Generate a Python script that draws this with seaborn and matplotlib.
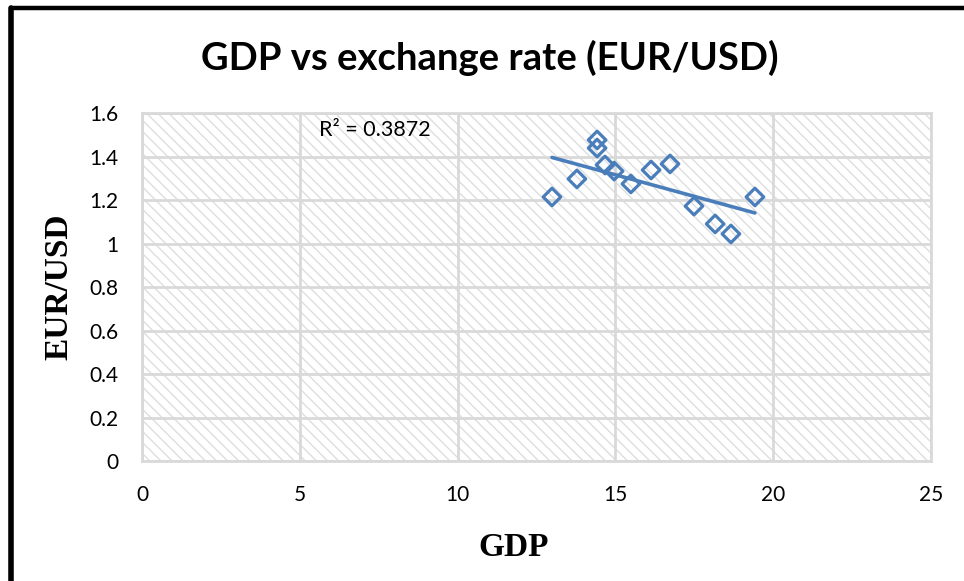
import numpy as np
import pandas as pd
import matplotlib
matplotlib.use("Agg")
import matplotlib.pyplot as plt
import seaborn as sns
from matplotlib.patches import Rectangle

# values
gdp = [12.99, 13.78, 14.42, 14.42, 14.67, 14.96, 15.49, 16.13, 16.73, 17.49, 18.16, 18.66, 19.42]
eur_usd = [1.214, 1.297, 1.476, 1.439, 1.361, 1.333, 1.274, 1.338, 1.366, 1.172, 1.090, 1.044, 1.214]
x_ticks = [0, 5, 10, 15, 20, 25]
y_ticks = [0, 0.2, 0.4, 0.6, 0.8, 1.0, 1.2, 1.4, 1.6]
y_tick_labels = ["0", "0.2", "0.4", "0.6", "0.8", "1", "1.2", "1.4", "1.6"]
r2_label = "R² = 0.3872"

df = pd.DataFrame({"GDP": gdp, "EUR/USD": eur_usd})

sns.set_theme(style="white")
plt.rcParams["font.family"] = ["Lato", "DejaVu Sans"]
plt.rcParams["text.color"] = "black"
plt.rcParams["axes.labelcolor"] = "black"

blue = "#4A7EBB"
grid_grey = "#D9D9D9"

fig = plt.figure(figsize=(9.64, 5.81), dpi=100)
ax = fig.add_axes([0.1473, 0.2065, 0.8185, 0.599])

# hatched plot background
ax.add_patch(Rectangle((0, 0), 1, 1, transform=ax.transAxes, facecolor="none",
                       edgecolor="#DEDEDE", linewidth=0, hatch="\\\\\\", zorder=0))

sns.regplot(data=df, x="GDP", y="EUR/USD", ax=ax, scatter=False, ci=None, truncate=True,
            line_kws={"color": blue, "linewidth": 2.6, "zorder": 3})
sns.scatterplot(data=df, x="GDP", y="EUR/USD", ax=ax, marker="D", s=80,
                facecolor="none", edgecolor=blue, linewidth=2.3, zorder=4)

ax.set_xlim(0, 25)
ax.set_ylim(0, 1.6)
ax.set_xticks(x_ticks)
ax.set_yticks(y_ticks)
ax.set_yticklabels(y_tick_labels)
ax.tick_params(axis="both", length=0, labelsize=15, colors="black")
ax.tick_params(axis="x", pad=17)
ax.tick_params(axis="y", pad=17)
ax.grid(True, color=grid_grey, linewidth=2, zorder=1)
ax.set_axisbelow(True)
for s in ax.spines.values():
    s.set_color(grid_grey)
    s.set_linewidth(2)

ax.set_xlabel("GDP", family="Liberation Serif", fontsize=24, fontweight="bold", color="black")
ax.set_ylabel("EUR/USD", family="Liberation Serif", fontsize=24, fontweight="bold", color="black")
ax.xaxis.set_label_coords(0.4715, -0.205)
ax.yaxis.set_label_coords(-0.085, 0.5)

ax.text(5.6, 1.52, r2_label, fontsize=15.5, va="center", ha="left", color="black")

fig.text(0.508, 0.90, "GDP vs exchange rate (EUR/USD)", ha="center", va="center",
         fontsize=27.5, fontweight="bold", color="black")

# black frame on the top and left edges
fig.add_artist(plt.Line2D([0.0115, 1.0], [0.986, 0.986], transform=fig.transFigure,
                          color="black", linewidth=3.2))
fig.add_artist(plt.Line2D([0.0115, 0.0115], [0.0, 0.986], transform=fig.transFigure,
                          color="black", linewidth=4))

fig.savefig("out.png", dpi=100)
plt.close(fig)
